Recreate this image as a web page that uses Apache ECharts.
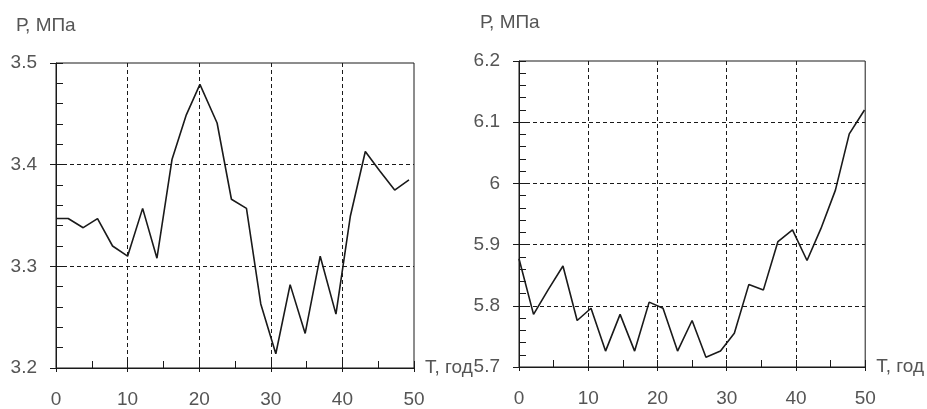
<!DOCTYPE html>
<html>
<head>
<meta charset="utf-8">
<script src="https://cdn.jsdelivr.net/npm/echarts@6/dist/echarts.min.js"></script>
<style>
html,body{margin:0;padding:0;background:#fff;}
#chart{width:927px;height:409px;}
</style>
</head>
<body>
<div id="chart"></div>
<script>
// Left chart data
const leftT = [0, 1.7, 3.8, 5.8, 7.9, 10, 12.1, 14.1, 16.2, 18.2, 20.1, 22.5, 24.5, 26.6, 28.6, 30.7, 32.7, 34.8, 36.9, 39.1, 41.1, 43.2, 45.2, 47.3, 49.3];
const leftP = [3.347, 3.347, 3.338, 3.347, 3.320, 3.310, 3.357, 3.308, 3.405, 3.449, 3.479, 3.441, 3.366, 3.357, 3.263, 3.214, 3.282, 3.234, 3.310, 3.253, 3.349, 3.413, 3.394, 3.375, 3.385];
// Right chart data
const rightT = [0, 2.1, 4.2, 6.35, 8.4, 10.4, 12.5, 14.6, 16.7, 18.8, 20.8, 22.9, 25.0, 27.0, 29.1, 31.1, 33.2, 35.3, 37.4, 39.5, 41.6, 43.6, 45.7, 47.7, 49.9];
const rightP = [5.877, 5.786, 5.826, 5.865, 5.776, 5.796, 5.726, 5.786, 5.726, 5.806, 5.796, 5.726, 5.776, 5.716, 5.726, 5.755, 5.835, 5.826, 5.905, 5.924, 5.874, 5.926, 5.989, 6.081, 6.120];
// Axis settings
const xRange = [0, 50, 10];
const leftYRange = [3.2, 3.5, 0.1];
const rightYRange = [5.7, 6.2, 0.1];
const yName = 'Р, МПа';
const xName = 'Т, год';

const FONT = '"Liberation Sans", Arial, sans-serif';
const FS = 19;
const TXT = '#555555';
const INK = '#1a1a1a';
const dash = [4, 3];

function mainX(grid) {
  return {
    type: 'value', gridIndex: grid, min: xRange[0], max: xRange[1], interval: xRange[2], position: 'bottom',
    name: xName, nameLocation: 'end', nameGap: 11,
    nameTextStyle: { color: TXT, fontSize: FS, fontFamily: FONT, verticalAlign: 'middle', align: 'left' },
    axisLine: { show: true, lineStyle: { color: INK, width: 1 } },
    axisTick: { show: true, inside: true, length: 7, lineStyle: { color: INK } },
    minorTick: { show: true, splitNumber: 2, length: 7, lineStyle: { color: INK } },
    axisLabel: { color: TXT, fontSize: FS, fontFamily: FONT, margin: 22 },
    splitLine: { show: true, showMinLine: false, showMaxLine: false, lineStyle: { color: INK, type: dash, width: 1 } }
  };
}
function outerX(grid) {
  return {
    type: 'value', gridIndex: grid, min: xRange[0], max: xRange[1], interval: xRange[2], position: 'bottom',
    axisLine: { show: false }, axisLabel: { show: false }, splitLine: { show: false },
    axisTick: { show: true, inside: false, length: 4, lineStyle: { color: INK } }
  };
}
function mainY(grid, r) {
  return {
    type: 'value', gridIndex: grid, min: r[0], max: r[1], interval: r[2], position: 'left',
    axisLine: { show: true, lineStyle: { color: INK, width: 1 } },
    axisTick: { show: true, inside: true, length: 7, lineStyle: { color: INK } },
    minorTick: { show: true, splitNumber: 5, length: 7, lineStyle: { color: INK } },
    axisLabel: { color: TXT, fontSize: FS, fontFamily: FONT, margin: 19 },
    splitLine: { show: true, showMinLine: false, showMaxLine: false, lineStyle: { color: INK, type: dash, width: 1 } }
  };
}
function outerY(grid, r) {
  return {
    type: 'value', gridIndex: grid, min: r[0], max: r[1], interval: r[2], position: 'left',
    axisLine: { show: false }, axisLabel: { show: false }, splitLine: { show: false },
    axisTick: { show: true, inside: false, length: 6, lineStyle: { color: INK } }
  };
}

const chart = echarts.init(document.getElementById('chart'), null, { renderer: 'canvas' });
chart.setOption({
  animation: false,
  backgroundColor: '#fff',
  grid: [
    { left: 56, top: 63, width: 358, height: 306, show: true, borderColor: INK, borderWidth: 1, backgroundColor: 'transparent' },
    { left: 519, top: 61, width: 347, height: 306, show: true, borderColor: INK, borderWidth: 1, backgroundColor: 'transparent' }
  ],
  xAxis: [mainX(0), outerX(0), mainX(1), outerX(1)],
  yAxis: [mainY(0, leftYRange), outerY(0, leftYRange), mainY(1, rightYRange), outerY(1, rightYRange)],
  graphic: [
    { type: 'text', left: 16, top: 16, style: { text: yName, fill: TXT, font: FS + 'px ' + FONT } },
    { type: 'text', left: 480, top: 13, style: { text: yName, fill: TXT, font: FS + 'px ' + FONT } }
  ],
  series: [
    { type: 'line', xAxisIndex: 0, yAxisIndex: 0, data: leftT.map((t, i) => [t, leftP[i]]),
      showSymbol: false, lineStyle: { color: INK, width: 1.6 }, z: 5 },
    { type: 'line', xAxisIndex: 2, yAxisIndex: 2, data: rightT.map((t, i) => [t, rightP[i]]),
      showSymbol: false, lineStyle: { color: INK, width: 1.6 }, z: 5 }
  ]
});
</script>
</body>
</html>
